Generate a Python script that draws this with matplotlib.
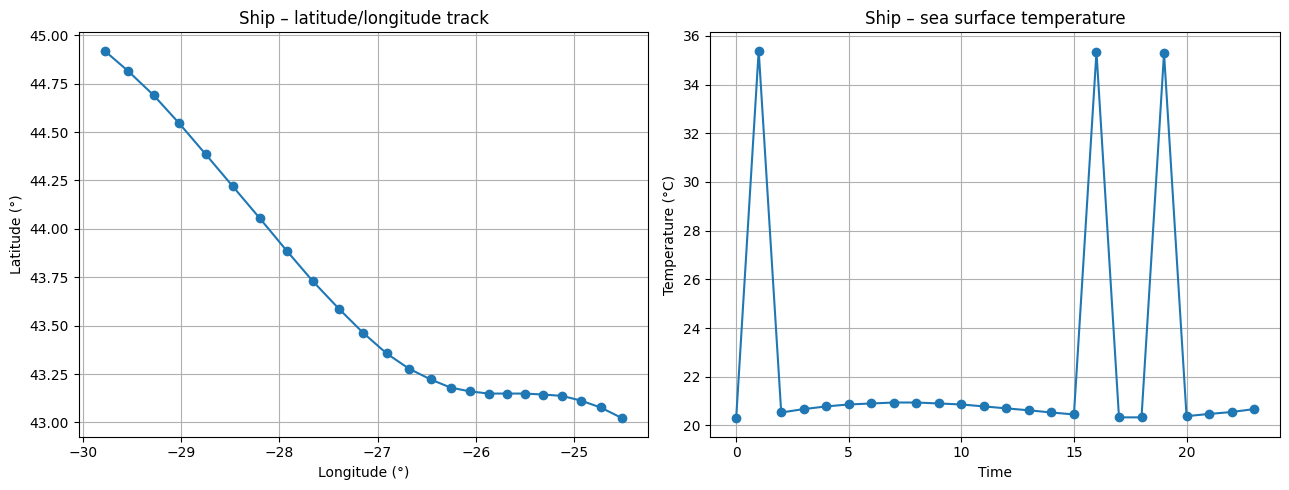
import numpy as np
import matplotlib
matplotlib.use('Agg')
import matplotlib.pyplot as plt

# Ship track
lon = [-29.78, -29.54, -29.28, -29.02, -28.75, -28.475, -28.20, -27.925,
       -27.66, -27.395, -27.149, -26.907, -26.681, -26.459, -26.256, -26.057,
       -25.866, -25.683, -25.499, -25.316, -25.121, -24.93, -24.727, -24.505]
lat = [44.92, 44.815, 44.69, 44.545, 44.385, 44.22, 44.055, 43.887,
       43.73, 43.588, 43.464, 43.356, 43.278, 43.222, 43.18, 43.16,
       43.149, 43.149, 43.149, 43.144, 43.137, 43.113, 43.077, 43.021]

# Sea surface temperature
time = list(range(24))
sst = [20.29, 35.39, 20.53, 20.67, 20.78, 20.86, 20.90, 20.94,
       20.94, 20.90, 20.86, 20.78, 20.70, 20.62, 20.53, 20.45,
       35.34, 20.33, 20.33, 35.29, 20.38, 20.47, 20.55, 20.67]

fig, (ax1, ax2) = plt.subplots(1, 2, figsize=(13, 5), dpi=100)

ax1.plot(lon, lat, marker='o')
ax1.set_title('Ship – latitude/longitude track')
ax1.set_xlabel('Longitude (°)')
ax1.set_ylabel('Latitude (°)')
ax1.grid(True)

ax2.plot(time, sst, marker='o')
ax2.set_title('Ship – sea surface temperature')
ax2.set_xlabel('Time')
ax2.set_ylabel('Temperature (°C)')
ax2.grid(True)

plt.tight_layout()
plt.savefig('out.png', bbox_inches='tight')
